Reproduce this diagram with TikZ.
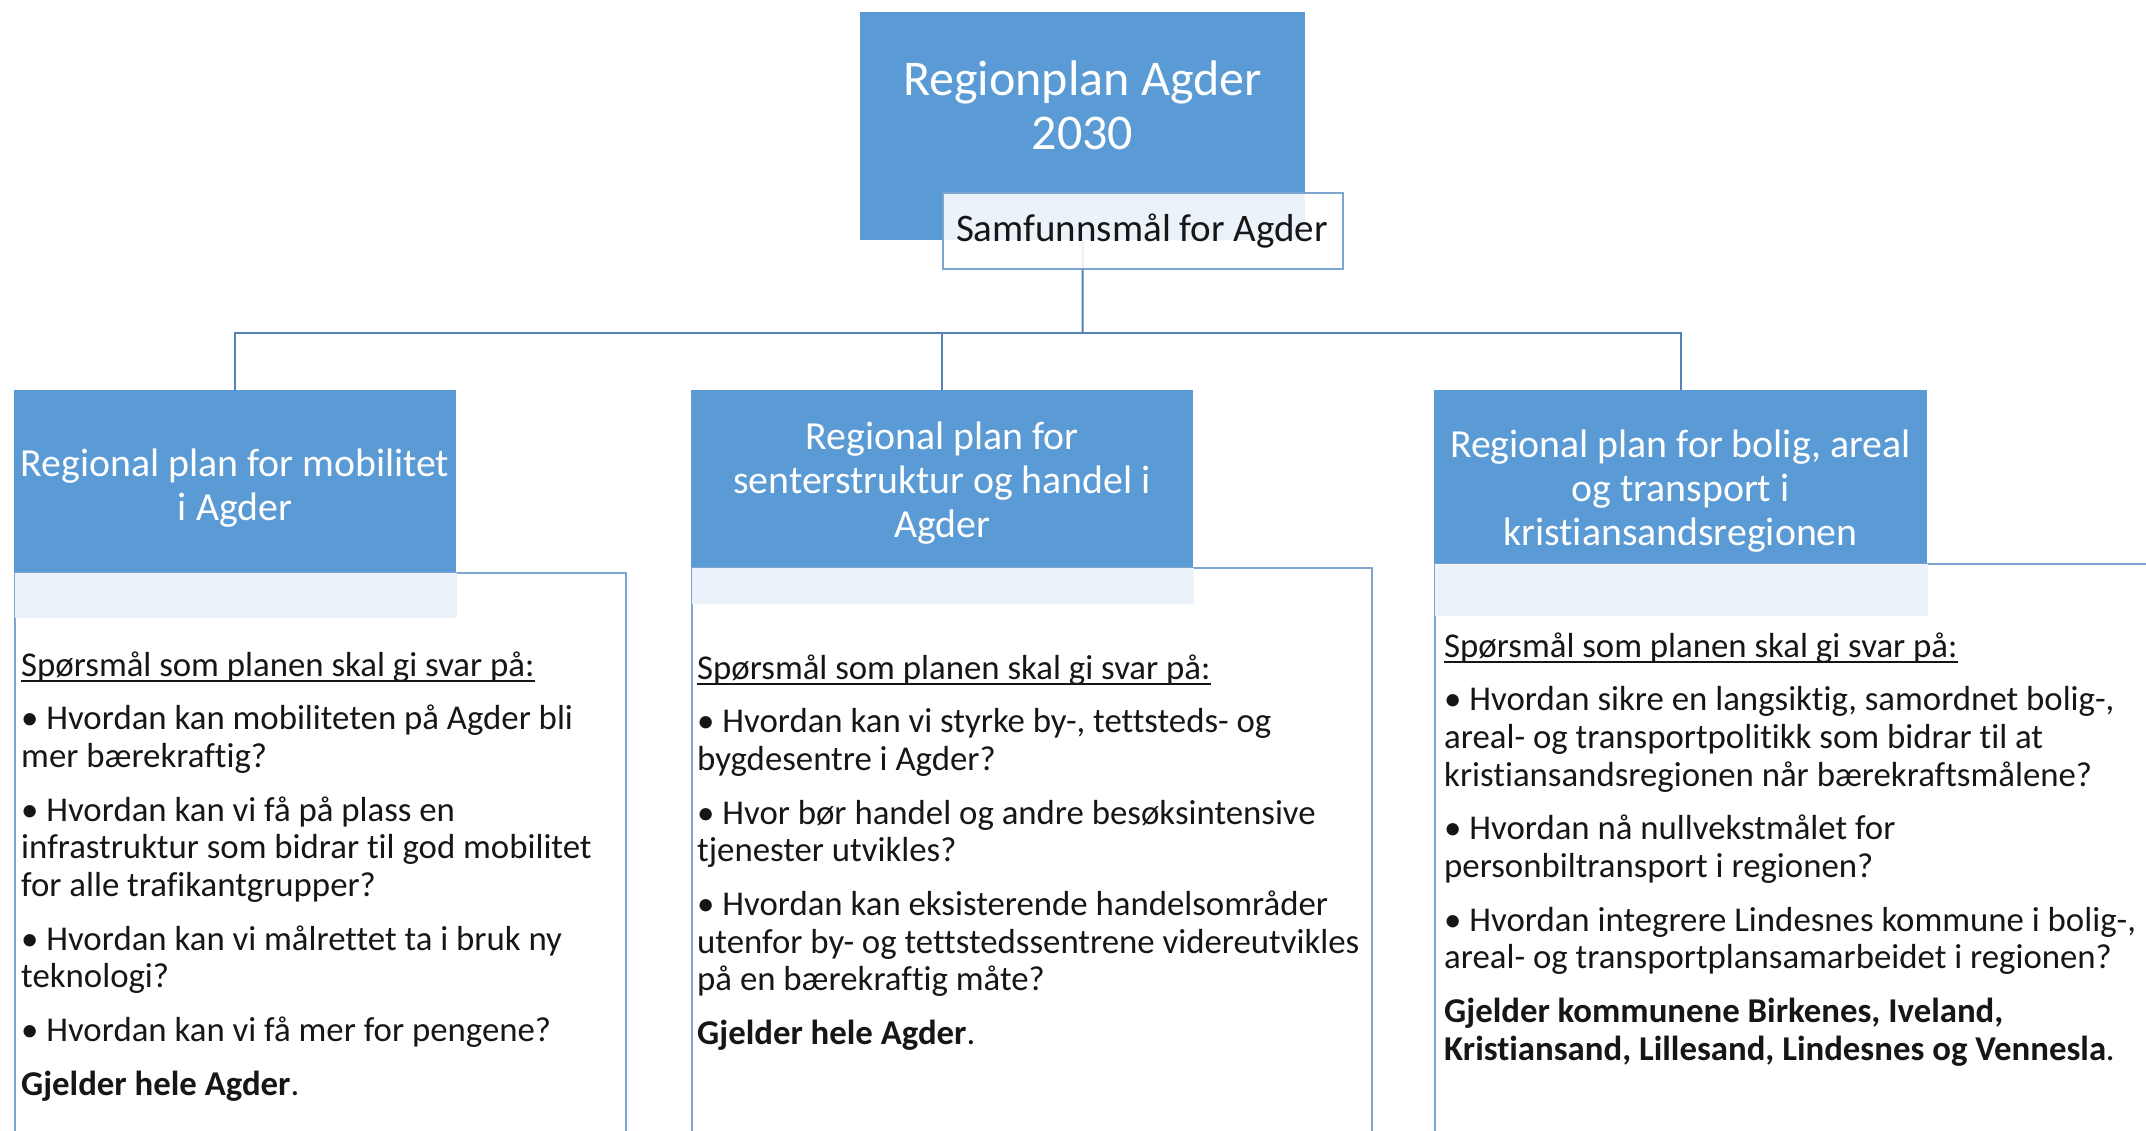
\documentclass[tikz,border=0pt]{standalone}
\usepackage{fontspec}
\setmainfont{Carlito}[Ligatures={NoCommon}]
\definecolor{accent}{RGB}{91,155,213}
\definecolor{band}{RGB}{236,242,249}
\definecolor{frame}{RGB}{125,165,210}
\definecolor{conn}{RGB}{84,130,180}
\definecolor{ink}{RGB}{22,22,22}
\newcommand\myul[1]{\leavevmode\setbox0\hbox{#1}\rlap{\rule[-6pt]{\wd0}{1.8pt}}\box0}
\newcommand\leftcol[2]{\begin{minipage}[t]{#1}\raggedright\frenchspacing\setlength{\parskip}{16pt}#2\end{minipage}}
\newcommand\midcol[2]{\begin{minipage}[t]{#1}\centering\frenchspacing #2\end{minipage}}
\tikzset{
  bluebox/.style={fill=accent, draw=none, inner sep=0, anchor=north west},
  bandbox/.style={fill=band, draw=none, inner sep=0, anchor=north west},
  framebox/.style={draw=frame, line width=2pt, fill=white, inner sep=0, anchor=north west},
  connector/.style={draw=conn, line width=2pt},
  headtxt/.style={inner sep=0, anchor=base, text=white, font=\fontsize{39.8}{44}\selectfont},
  bodytxt/.style={inner sep=0, anchor=base west, text=ink, font=\fontsize{34.8}{37.7}\selectfont},
}
\begin{document}
\begin{tikzpicture}[x=1pt,y=-1pt]
\fill[white] (0,0) rectangle (2146,1130);
\useasboundingbox (0,0) rectangle (2146,1130);

% top box
\node[bluebox, minimum width=445, minimum height=228] (top) at (860,12) {};
\node[inner sep=0, anchor=base, text=white,
      font=\fontsize{50}{54.5}\selectfont] (toptxt) at (1082.5,95) {\midcol{440pt}{Regionplan Agder\\2030}};

% text frames
\node[framebox, minimum width=611, minimum height=570] (f1) at (14,572) {};
\node[framebox, minimum width=680, minimum height=570] (f2) at (691,567) {};
\node[framebox, minimum width=740, minimum height=580] (f3) at (1434,563) {};

% heading boxes
\node[bluebox, minimum width=442, minimum height=182] (h1) at (14,390) {};
\node[bluebox, minimum width=502, minimum height=177] (h2) at (691,390) {};
\node[bluebox, minimum width=493, minimum height=173] (h3) at (1434,390) {};
\node[bandbox, minimum width=442, minimum height=45] (b1) at (15,573) {};
\node[bandbox, minimum width=502, minimum height=36] (b2) at (692,568) {};
\node[bandbox, minimum width=493, minimum height=52] (b3) at (1435,564) {};

% connectors
\coordinate (bus) at (1082.5,333);
\draw[connector] (top.south) -- (bus);
\draw[connector] (h1.north) |- (bus) -| (h3.north);
\draw[connector] (h2.north) -- (h2.north |- bus);

% Samfunnsmaal box
\node[draw=frame, line width=2pt, fill=white, fill opacity=0.88, inner sep=0,
      minimum width=400, minimum height=76, anchor=north west] (samf) at (942,192) {};
\node[inner sep=0, anchor=base, text=ink, font=\fontsize{39}{44}\selectfont] (samftxt) at (1142,241) {Samfunnsmål for Agder};

% headings
\node[headtxt] (h1txt) at (235,476) {\midcol{440pt}{Regional plan for mobilitet\\i Agder}};
\node[headtxt] (h2txt) at (942,449) {\midcol{500pt}{Regional plan for\\senterstruktur og handel i\\Agder}};
\node[headtxt] (h3txt) at (1680.5,457) {\midcol{490pt}{Regional plan for bolig, areal\\og transport i\\kristiansandsregionen}};

% bodies
\node[bodytxt] (t1) at (21,676) {\leftcol{680pt}{%
\myul{Spørsmål som planen skal gi svar på:}\par
• Hvordan kan mobiliteten på Agder bli\\mer bærekraftig?\par
• Hvordan kan vi få på plass en\\infrastruktur som bidrar til god mobilitet\\for alle trafikantgrupper?\par
• Hvordan kan vi målrettet ta i bruk ny\\teknologi?\par
• Hvordan kan vi få mer for pengene?\par
\textbf{Gjelder hele Agder}.}};

\node[bodytxt] (t2) at (697,679) {\leftcol{680pt}{%
\myul{Spørsmål som planen skal gi svar på:}\par
• Hvordan kan vi styrke by-, tettsteds- og\\bygdesentre i Agder?\par
• Hvor bør handel og andre besøksintensive\\tjenester utvikles?\par
• Hvordan kan eksisterende handelsområder\\utenfor by- og tettstedssentrene videreutvikles\\på en bærekraftig måte?\par
\textbf{Gjelder hele Agder}.}};

\node[bodytxt] (t3) at (1444,657) {\leftcol{720pt}{%
\myul{Spørsmål som planen skal gi svar på:}\par
• Hvordan sikre en langsiktig, samordnet bolig-,\\areal- og transportpolitikk som bidrar til at\\kristiansandsregionen når bærekraftsmålene?\par
• Hvordan nå nullvekstmålet for\\personbiltransport i regionen?\par
• Hvordan integrere Lindesnes kommune i bolig-,\\areal- og transportplansamarbeidet i regionen?\par
\textbf{Gjelder kommunene Birkenes, Iveland,}\\\textbf{Kristiansand, Lillesand, Lindesnes og Vennesla}.}};
\end{tikzpicture}
\end{document}
